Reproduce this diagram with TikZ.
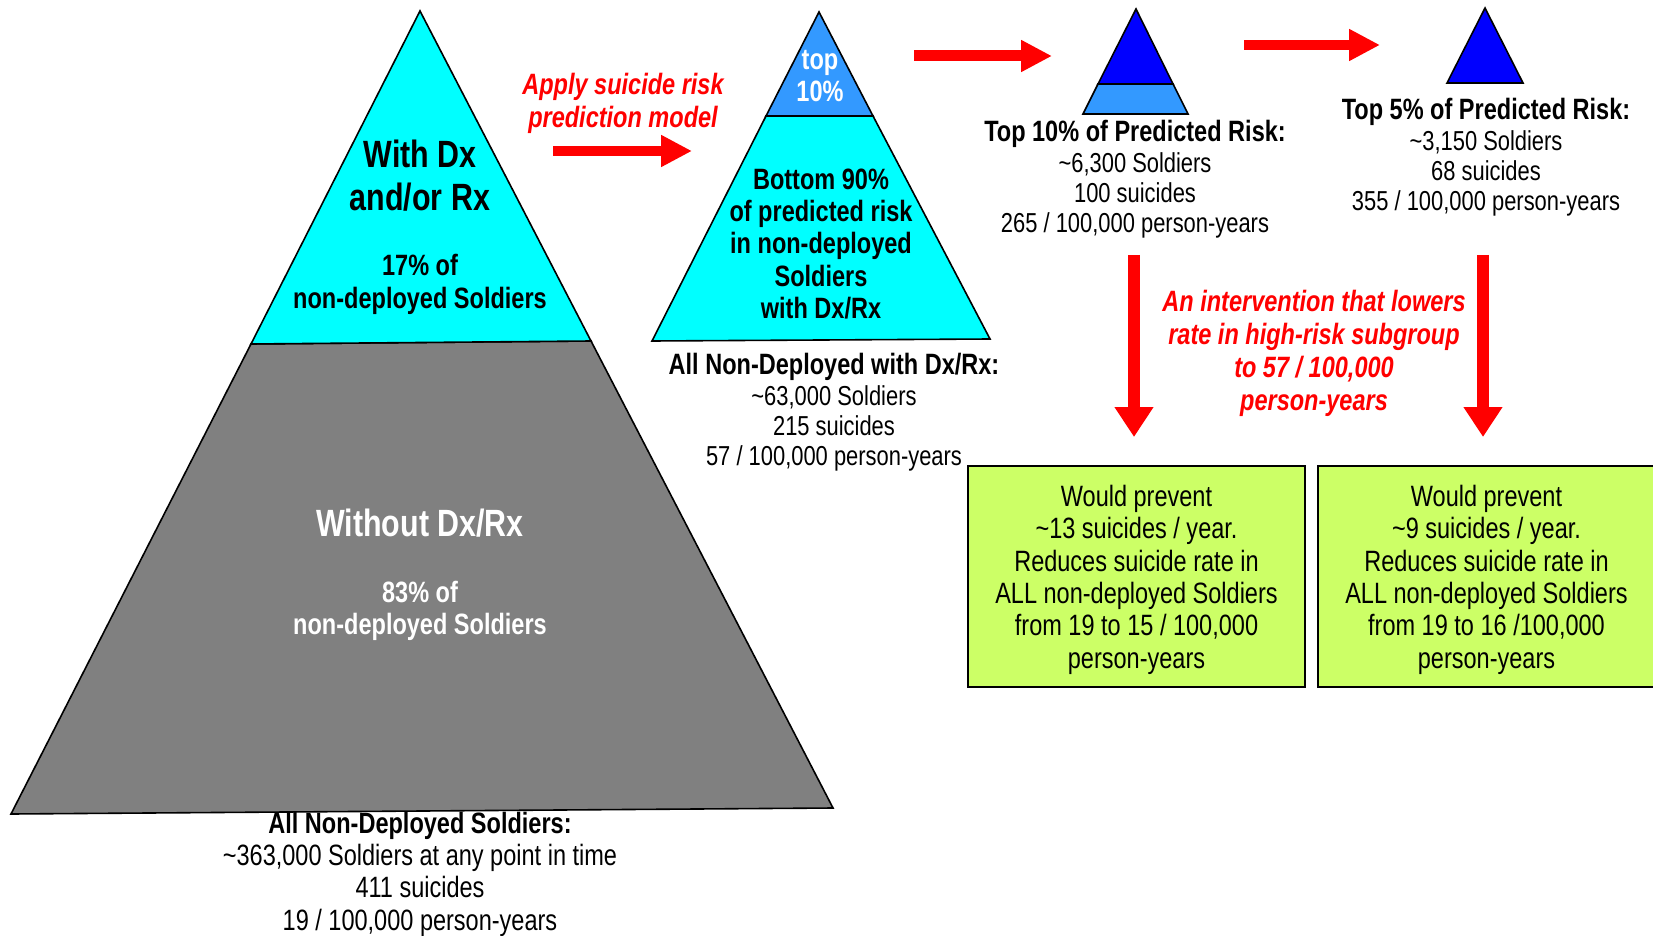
\documentclass[tikz,border=0pt]{standalone}
\usepackage{fontspec}
\setmainfont{Liberation Sans}[FakeStretch=0.8]
\usetikzlibrary{arrows.meta}

\definecolor{pyrcyan}{HTML}{00FFFF}
\definecolor{pyrgray}{HTML}{808080}
\definecolor{pyrlight}{HTML}{3399FF}
\definecolor{pyrblue}{HTML}{0000FF}
\definecolor{boxgreen}{HTML}{CCFF66}

\newcommand{\infohead}[1]{{\fontsize{14.7}{15.2}\selectfont\bfseries #1}}

\tikzset{
    info/.style={align=center, font=\fontsize{14.7}{16.2}\selectfont},
    smallinfo/.style={align=center, font=\fontsize{13.7}{15.2}\selectfont},
    boldinfo/.style={align=center, font=\fontsize{14.7}{16.2}\selectfont\bfseries},
    biglabel/.style={align=center, font=\fontsize{19}{21.5}\selectfont\bfseries},
    redlabel/.style={align=center, text=red, font=\fontsize{14.7}{16.5}\selectfont\bfseries\itshape},
    rightarrow/.style={red, line width=5pt, -{Triangle[length=15.5pt,width=15pt]}},
    downarrow/.style={red, line width=6pt, -{Triangle[length=15pt,width=18.5pt]}},
    outline/.style={draw=black, line width=0.8pt},
    resultbox/.style={draw=black, line width=1pt, fill=boxgreen, minimum width=168.5pt,
        minimum height=110.5pt, inner sep=0pt},
}

\begin{document}
\begin{tikzpicture}[x=0.5pt, y=-0.5pt]
    \useasboundingbox (0, 0) rectangle (1653, 936);
    \clip (0, 0) rectangle (1653, 936);

    % all non-deployed soldiers
    \filldraw[outline, fill=pyrgray] (251, 344) -- (11, 814) -- (833, 808) -- (591, 341) -- cycle;
    \filldraw[outline, fill=pyrcyan] (420, 11) -- (251, 344) -- (591, 341) -- cycle;
    \node[biglabel] (withdx) at (420, 176) {With Dx\\and/or Rx};
    \node[boldinfo] (share17) at (420, 284.5) {17\% of\\non-deployed Soldiers};
    \node[biglabel, text=white] (withoutdx) at (420, 523) {Without Dx/Rx};
    \node[boldinfo, text=white] (share83) at (420, 611) {83\% of\\non-deployed Soldiers};
    \node[info, inner sep=0pt] (allsoldiers) at (420, 874) {\textbf{All Non-Deployed Soldiers:}\\\textasciitilde 363,000 Soldiers at any point in time\\411 suicides\\19 / 100,000 person-years};

    % prediction model
    \node[redlabel] (apply) at (623, 103.5) {Apply suicide risk\\prediction model};
    \coordinate (apply start) at (553, 151);
    \coordinate (apply end) at (692, 151);
    \draw[rightarrow] (apply start) -- (apply end);

    % non-deployed with Dx/Rx
    \filldraw[outline, fill=pyrcyan] (766, 116) -- (652, 341) -- (990, 339) -- (873, 116) -- cycle;
    \filldraw[outline, fill=pyrlight] (819, 12) -- (766, 116) -- (873, 116) -- cycle;
    \node[boldinfo, text=white] (top10) at (820, 76) {top\\10\%};
    \node[boldinfo] (bottom90) at (821, 244) {Bottom 90\%\\of predicted risk\\in non-deployed\\Soldiers\\with Dx/Rx};
    \node[smallinfo] (alldx) at (834, 412.5) {\infohead{All Non-Deployed with Dx/Rx:}\\\textasciitilde 63,000 Soldiers\\215 suicides\\57 / 100,000 person-years};

    % top 10%
    \coordinate (ten start) at (914, 56);
    \coordinate (ten end) at (1052, 56);
    \draw[rightarrow, line width=5.5pt] (ten start) -- (ten end);
    \filldraw[outline, fill=pyrlight] (1098, 84) -- (1083, 114) -- (1188, 114) -- (1173, 84) -- cycle;
    \filldraw[outline, fill=pyrblue] (1136, 9) -- (1098, 84) -- (1173, 84) -- cycle;
    \node[smallinfo] (top10info) at (1135, 179.5) {\infohead{Top 10\% of Predicted Risk:}\\\textasciitilde 6,300 Soldiers\\100 suicides\\265 / 100,000 person-years};

    % top 5%
    \coordinate (five start) at (1244, 45);
    \coordinate (five end) at (1380, 45);
    \draw[rightarrow] (five start) -- (five end);
    \filldraw[outline, fill=pyrblue] (1485, 8) -- (1447, 83) -- (1523, 83) -- cycle;
    \node[smallinfo] (top5info) at (1486, 157.5) {\infohead{Top 5\% of Predicted Risk:}\\\textasciitilde 3,150 Soldiers\\68 suicides\\355 / 100,000 person-years};

    % intervention
    \node[redlabel] (intervention) at (1314, 353.5) {An intervention that lowers\\rate in high-risk subgroup\\to 57 / 100,000\\person-years};
    \coordinate (cut ten) at (1134, 255);
    \coordinate (cut ten tip) at (1134, 437);
    \coordinate (cut five) at (1483, 255);
    \coordinate (cut five tip) at (1483, 437);
    \draw[downarrow] (cut ten) -- (cut ten tip);
    \draw[downarrow] (cut five) -- (cut five tip);

    \node[resultbox] (prevent13) at (1136.5, 576.5) {};
    \node[resultbox] (prevent9) at (1486.5, 576.5) {};
    \node[info] (prevent13 text) at ([yshift=-1.6pt]prevent13.center) {Would prevent\\\textasciitilde 13 suicides / year.\\Reduces suicide rate in\\ALL non-deployed Soldiers\\from 19 to 15 / 100,000\\person-years};
    \node[info] (prevent9 text) at ([yshift=-1.6pt]prevent9.center) {Would prevent\\\textasciitilde 9 suicides / year.\\Reduces suicide rate in\\ALL non-deployed Soldiers\\from 19 to 16 /100,000\\person-years};
\end{tikzpicture}
\end{document}
